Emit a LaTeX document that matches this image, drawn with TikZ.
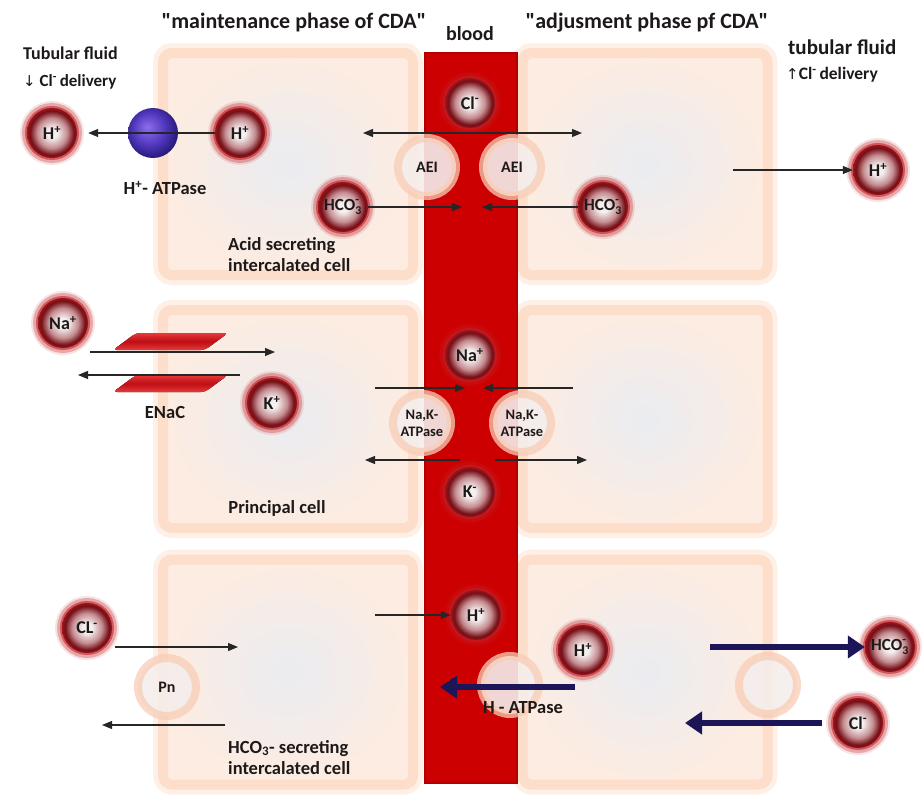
\documentclass[tikz,border=0pt]{standalone}
\usepackage{amsmath}
\usepackage{fontspec}
\setmainfont{Carlito}
\newfontfamily\symfont{DejaVu Sans}
\usetikzlibrary{arrows.meta}

% palette
\definecolor{bloodred}{RGB}{204,0,0}
\definecolor{bloodedge}{RGB}{178,0,0}
\definecolor{cellband}{RGB}{252,222,202}
\definecolor{cellrim}{RGB}{253,236,225}
\definecolor{cellcore}{RGB}{234,236,241}
\definecolor{cellhalo}{RGB}{254,240,231}
\definecolor{ioncore}{RGB}{245,240,240}
\definecolor{ionmid}{RGB}{196,140,144}
\definecolor{ionedge}{RGB}{118,14,22}
\definecolor{ionrim}{RGB}{150,22,28}
\definecolor{ionglow}{RGB}{196,32,38}
\definecolor{trring}{RGB}{249,205,182}
\definecolor{trcore}{RGB}{245,238,236}
\definecolor{pumpnavy}{RGB}{28,22,88}
\definecolor{enacdark}{RGB}{188,14,20}
\definecolor{enaclight}{RGB}{232,58,58}
\definecolor{sphhi}{RGB}{140,110,235}
\definecolor{sphmid}{RGB}{82,56,190}
\definecolor{sphdark}{RGB}{30,20,110}
\definecolor{ink}{RGB}{30,25,25}

% ion and pump shadings
\pgfdeclareradialshading{ionshade}{\pgfpoint{0bp}{0bp}}{color(0bp)=(ioncore); color(5bp)=(ioncore); color(15bp)=(ionmid); color(22bp)=(ionedge); color(25bp)=(ionrim); color(50bp)=(ionrim)}
\pgfdeclareradialshading{bluesphere}{\pgfpoint{-6bp}{6bp}}{color(0bp)=(sphhi); color(16bp)=(sphmid); color(30bp)=(sphdark); color(50bp)=(sphdark)}

\tikzset{
  cellbox/.style={rectangle, rounded corners=9pt, draw=cellband, line width=10pt,
    inner color=cellcore, outer color=cellrim,
    preaction={draw=cellhalo, line width=20pt}},
  bloodcol/.style={rectangle, fill=bloodred, draw=bloodedge, line width=1.5pt,
    minimum width=92pt, minimum height=730pt, inner sep=0pt},
  transp/.style={circle, minimum size=58pt, inner sep=0pt, fill=trcore, draw=trring,
    line width=8pt, fill opacity=0.9, draw opacity=0.75, text opacity=1, text=ink,
    align=center, font=\bfseries\fontsize{16}{17}\selectfont},
  ion/.style={circle, minimum size=50pt, inner sep=0pt, shade, shading=ionshade,
    preaction={draw=ionglow, line width=14pt, draw opacity=0.12},
    preaction={draw=ionglow, line width=10pt, draw opacity=0.3},
    preaction={draw=ionglow, line width=4pt, draw opacity=0.6},
    text=ink, font=\bfseries\fontsize{18}{18}\selectfont},
  smallion/.style={ion, font=\bfseries\fontsize{17}{17}\selectfont},
  arr/.style={-{Triangle[length=10pt,width=8pt]}, line width=1.1pt, draw=black!85},
  darr/.style={{Triangle[length=10pt,width=8pt]}-{Triangle[length=10pt,width=8pt]}, line width=1.1pt, draw=black!85},
  pump/.style={-{Triangle[length=17pt,width=22pt]}, line width=6.5pt, draw=pumpnavy},
  lbl/.style={inner sep=0pt, text=ink, font=\bfseries\fontsize{18.5}{21}\selectfont},
  enac/.style={top color=enaclight, bottom color=enaclight, middle color=enacdark, rounded corners=4pt}
}

\newcommand{\hcothree}{$\text{HCO}^{\text{-}}_{\text{3}}$}

\begin{document}
\begin{tikzpicture}[x=1pt,y=-1pt]
\useasboundingbox[fill=white] (0,0) rectangle (922,798);

% cells of the collecting duct
\node[cellbox, minimum width=250pt, minimum height=222pt] (cellA)  at (288,164) {};
\node[cellbox, minimum width=250pt, minimum height=218pt] (cellP)  at (288,419) {};
\node[cellbox, minimum width=250pt, minimum height=225pt] (cellB)  at (288,672) {};
\node[cellbox, minimum width=245pt, minimum height=222pt] (cellA2) at (645,164) {};
\node[cellbox, minimum width=245pt, minimum height=218pt] (cellP2) at (645,419) {};
\node[cellbox, minimum width=245pt, minimum height=225pt] (cellB2) at (645,672) {};

% blood vessel
\node[bloodcol] (blood) at (471,418) {};

% headings
\node[lbl, font=\bfseries\fontsize{22}{24}\selectfont] (title1) at (294,23) {\textquotedbl maintenance phase of CDA\textquotedbl};
\node[lbl, font=\bfseries\fontsize{20}{22}\selectfont] (bloodlbl) at (470,34) {blood};
\node[lbl, font=\bfseries\fontsize{22}{24}\selectfont] (title2) at (647,23) {\textquotedbl adjusment phase pf CDA\textquotedbl};
\node[lbl, anchor=west, font=\bfseries\fontsize{18}{20}\selectfont] (tfl) at (23,53) {Tubular fluid};
\node[lbl, anchor=west, font=\bfseries\fontsize{17}{19}\selectfont] (cldl) at (23,82) {{\symfont\mdseries\fontsize{15}{17}\selectfont ↓} Cl\textsuperscript{-}\,delivery};
\node[lbl, anchor=west, font=\bfseries\fontsize{21}{23}\selectfont] (tfr) at (788,47) {tubular fluid};
\node[lbl, anchor=west, font=\bfseries\fontsize{17.5}{19}\selectfont] (cldr) at (786,75) {{\symfont\mdseries\fontsize{15}{17}\selectfont ↑}Cl\textsuperscript{-}\,delivery};

% transporters in the membranes
\node[transp] (aeiL) at (427,167) {AEI};
\node[transp] (aeiR) at (512,167) {AEI};
\node[transp, font=\bfseries\fontsize{14.5}{17}\selectfont] (nakL) at (422,423) {Na,K-\\ATPase};
\node[transp, font=\bfseries\fontsize{14.5}{17}\selectfont] (nakR) at (522,423) {Na,K-\\ATPase};
\node[transp] (pn) at (167,687) {Pn};
\node[transp] (hat) at (510,685) {};
\node[transp] (exch) at (768,685) {};

% proton pump and ENaC channel
\node[circle, minimum size=50pt, inner sep=0pt, shade, shading=bluesphere] (atp) at (153,133) {};
\fill[enac] (113,350) -- (205,350) -- (228,333) -- (136,333) -- cycle;
\fill[enac] (113,392) -- (205,392) -- (228,375) -- (136,375) -- cycle;

% ions
\node[ion] (hTL) at (52,133) {H\textsuperscript{+}};
\node[ion] (hIn) at (240,133) {H\textsuperscript{+}};
\node[ion] (clB) at (470,103) {Cl\textsuperscript{-}};
\node[smallion] (hcoL) at (343,207) {\hcothree};
\node[smallion] (hcoR) at (603,207) {\hcothree};
\node[ion] (hR) at (878,170) {H\textsuperscript{+}};
\node[ion] (naL) at (63,323) {Na\textsuperscript{+}};
\node[ion] (kP) at (272,403) {K\textsuperscript{+}};
\node[ion] (naB) at (470,355) {Na\textsuperscript{+}};
\node[ion] (kB) at (470,492) {K\textsuperscript{-}};
\node[ion] (clL) at (87,628) {CL\textsuperscript{-}};
\node[ion] (hB) at (476,615) {H\textsuperscript{+}};
\node[ion] (hC) at (583,650) {H\textsuperscript{+}};
\node[smallion] (hcoX) at (890,647) {\hcothree};
\node[ion] (clX) at (858,723) {Cl\textsuperscript{-}};

% free arrow ends
\coordinate (aeiTipL) at (363,133);
\coordinate (aeiTipR) at (582,133);
\coordinate (hcoTipL) at (462,207);
\coordinate (hcoTipR) at (482,207);
\coordinate (hRStart) at (733,170);
\coordinate (naStart) at (90,352);
\coordinate (naTip)   at (275,352);
\coordinate (kStart)  at (240,375);
\coordinate (kTip)    at (78,375);
\coordinate (nakInL)  at (375,388);
\coordinate (nakInLt) at (465,388);
\coordinate (nakInR)  at (573,388);
\coordinate (nakInRt) at (483,388);
\coordinate (nakOutL)  at (460,460);
\coordinate (nakOutLt) at (365,460);
\coordinate (nakOutR)  at (495,460);
\coordinate (nakOutRt) at (587,460);
\coordinate (clOut)   at (115,647);
\coordinate (clIn)    at (238,647);
\coordinate (hcoOut)  at (225,725);
\coordinate (hcoOutT) at (102,725);
\coordinate (hBStart) at (375,615);
\coordinate (pumpStart) at (575,687);
\coordinate (pumpTip) at (440,687);
\coordinate (exOut)   at (710,647);
\coordinate (exIn)    at (822,723);
\coordinate (exInT)   at (685,723);

% transport arrows
\draw[arr, shorten >=11pt] (hIn.west) -- (hTL);
\draw[darr] (aeiTipL) -- (aeiTipR);
\draw[arr] (hcoL.east) -- (hcoTipL);
\draw[arr] (hcoR.west) -- (hcoTipR);
\draw[arr] (hRStart) -- (hR.west);
\draw[arr] (naStart) -- (naTip);
\draw[arr] (kStart) -- (kTip);
\draw[arr] (nakInL) -- (nakInLt);
\draw[arr] (nakInR) -- (nakInRt);
\draw[arr] (nakOutL) -- (nakOutLt);
\draw[arr] (nakOutR) -- (nakOutRt);
\draw[arr] (clOut) -- (clIn);
\draw[arr] (hcoOut) -- (hcoOutT);
\draw[arr] (hBStart) -- (hB.west);
\draw[pump] (pumpStart) -- (pumpTip);
\draw[pump] (exOut) -- (hcoX.west);
\draw[pump] (exIn) -- (exInT);

% labels
\node[lbl] (atpl) at (165,188) {H\textsuperscript{+}- ATPase};
\node[lbl, anchor=north west, align=left] (acidl) at (228,237) {Acid secreting\\intercalated cell};
\node[lbl] (enacl) at (165,412) {ENaC};
\node[lbl] (princl) at (277,508) {Principal cell};
\node[lbl, anchor=north west, align=left] (bicl) at (228,740) {HCO\textsubscript{3}- secreting\\intercalated cell};
\node[lbl] (hatl) at (523,708) {H - ATPase};
\end{tikzpicture}
\end{document}
